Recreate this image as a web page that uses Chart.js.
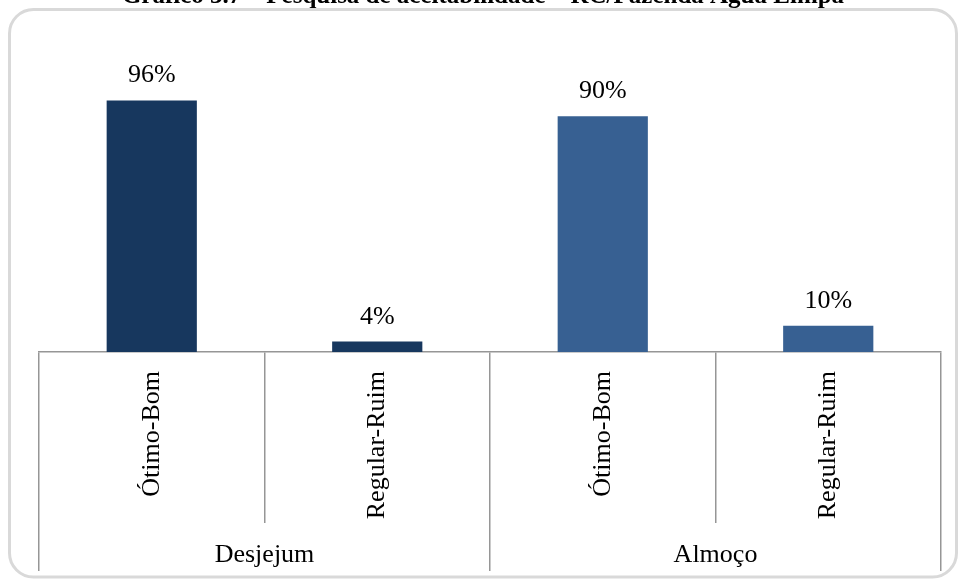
<!DOCTYPE html>
<html>
<head>
<meta charset="utf-8">
<script src="https://cdn.jsdelivr.net/npm/chart.js@4"></script>
<style>
  body { margin: 0; background: #fff; }
  canvas { display: block; }
</style>
</head>
<body>
<canvas id="chart" width="959" height="579"></canvas>
<script>
const groups = ['Desjejum', 'Almoço'];
const ratings = ['Ótimo-Bom', 'Regular-Ruim'];
const desjejum = [96, 4];
const almoco = [90, 10];
const tickLabels = groups.flatMap(() => ratings);

const serif = "'Liberation Serif', 'Times New Roman', serif";
const lineGray = '#969696';

// frame round the whole picture
const framePlugin = {
    id: 'frame',
    beforeDraw(chart) {
        const c = chart.ctx;
        c.save();
        c.strokeStyle = '#d9d9d9';
        c.lineWidth = 3;
        c.beginPath();
        c.roundRect(9.5, 9.5, 947, 567.5, 24);
        c.stroke();
        c.restore();
    }
};

// percent labels over the bars
const valueLabels = {
    id: 'valueLabels',
    afterDatasetsDraw(chart) {
        const c = chart.ctx;
        c.save();
        c.font = '26px ' + serif;
        c.fillStyle = '#000';
        c.textAlign = 'center';
        c.textBaseline = 'alphabetic';
        chart.data.datasets.forEach((ds, i) => {
            chart.getDatasetMeta(i).data.forEach((bar, j) => {
                const v = ds.data[j];
                if (v == null) return;
                c.fillText(v + '%', bar.x, bar.y - 18);
            });
        });
        c.restore();
    }
};

new Chart(document.getElementById('chart'), {
    type: 'bar',
    data: {
        labels: tickLabels,
        datasets: [
            {
                label: groups[0],
                data: [...desjejum, null, null],
                backgroundColor: '#17375e',
                grouped: false
            },
            {
                label: groups[1],
                data: [null, null, ...almoco],
                backgroundColor: '#376092',
                grouped: false
            }
        ]
    },
    options: {
        responsive: false,
        animation: false,
        categoryPercentage: 1,
        barPercentage: 0.4,
        layout: { padding: { top: 0, left: 7, right: 0, bottom: 8 } },
        plugins: {
            legend: { display: false },
            tooltip: { enabled: false },
            title: {
                display: true,
                text: 'Gráfico 3.7 – Pesquisa de aceitabilidade – RC/Fazenda Água Limpa',
                color: '#000',
                font: { family: serif, size: 25, weight: 'bold' },
                padding: { top: -18, bottom: 78 }
            }
        },
        scales: {
            x: {
                weight: 0,
                offset: true,
                grid: { offset: true, drawOnChartArea: false, tickLength: 171, color: lineGray, lineWidth: 1.5 },
                border: { color: lineGray, width: 1.5 },
                ticks: {
                    autoSkip: false, minRotation: 90, maxRotation: 90, padding: -152,
                    color: '#000', font: { family: serif, size: 26 }
                },
                afterFit: s => { s.height = 171; }
            },
            x2: {
                type: 'category',
                labels: groups,
                position: 'bottom',
                weight: 1,
                offset: true,
                grid: { offset: true, drawOnChartArea: false, tickLength: 48, color: lineGray, lineWidth: 1.5 },
                border: { display: false },
                ticks: {
                    maxRotation: 0, padding: -31,
                    color: '#000', font: { family: serif, size: 26 }
                },
                afterFit: s => { s.height = 48; }
            },
            y: {
                min: 0, max: 100,
                grid: { display: false },
                border: { display: false },
                ticks: { display: false },
                afterFit: s => { s.width = 32; }
            },
            y2: {
                position: 'right',
                grid: { display: false },
                border: { display: false },
                ticks: { display: false },
                afterFit: s => { s.width = 18; }
            }
        }
    },
    plugins: [framePlugin, valueLabels]
});
</script>
</body>
</html>
